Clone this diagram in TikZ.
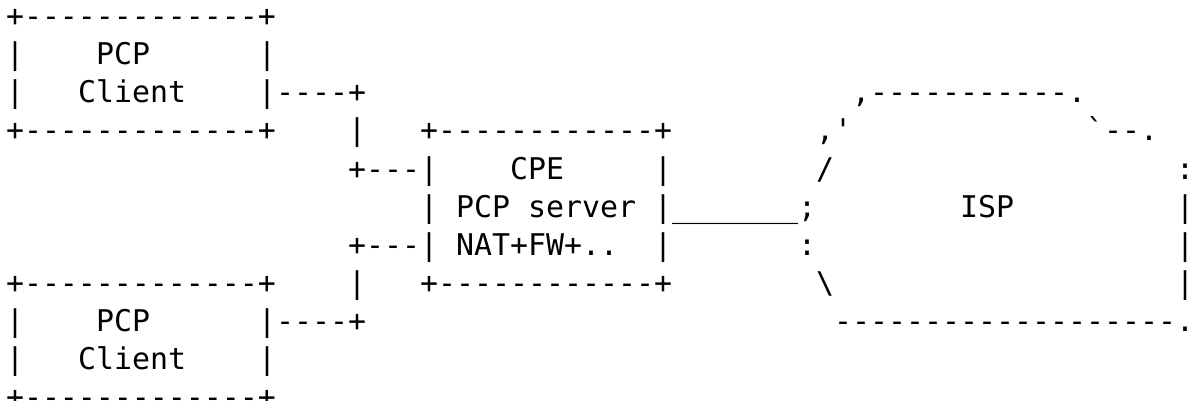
\documentclass[tikz,border=0pt]{standalone}
\usepackage{fontspec}
\setmonofont{DejaVu Sans Mono}
\begin{document}
\begin{tikzpicture}[x=1pt,y=1pt,
  ch/.style={anchor=base west,inner sep=0pt,outer sep=0pt,
    font=\ttfamily\fontsize{29.9}{36}\selectfont,text=black}]
\useasboundingbox (0,0) rectangle (1196,-401);
% column c, row r  ->  x = 6 + 18c,  baseline y = -(27 + 38(r-1))
\newcommand\at[2]{({6+18*#1},{-(27+38*(#2-1))})}
% upper client box
\node[ch] (a1) at \at{0}{1} {+-------------+};
\node[ch] (a2) at \at{0}{2} {|};
\node[ch] (a3) at \at{5}{2} {PCP};
\node[ch] (a4) at \at{14}{2} {|};
\node[ch] (b1) at \at{0}{3} {|};
\node[ch] (b2) at \at{4}{3} {Client};
\node[ch] (b3) at \at{14}{3} {|----+};
\node[ch] (b4) at \at{47}{3} {,-----------.};
\node[ch] (c1) at \at{0}{4} {+-------------+};
\node[ch] (c2) at \at{19}{4} {|};
\node[ch] (c3) at \at{23}{4} {+------------+};
\node[ch] (c4) at \at{45}{4} {,'};
\node[ch] (c5) at \at{60}{4} {`--.};
% CPE box and link to the ISP cloud
\node[ch] (d1) at \at{19}{5} {+---|};
\node[ch] (d2) at \at{28}{5} {CPE};
\node[ch] (d3) at \at{36}{5} {|};
\node[ch] (d4) at \at{45}{5} {/};
\node[ch] (d5) at \at{65}{5} {:};
\node[ch] (e1) at \at{23}{6} {|};
\node[ch] (e2) at \at{25}{6} {PCP};
\node[ch] (e3) at \at{29}{6} {server};
\node[ch] (e4) at \at{36}{6} {|\_\_\_\_\_\_\_;};
\node[ch] (e5) at \at{53}{6} {ISP};
\node[ch] (e6) at \at{65}{6} {|};
\node[ch] (f1) at \at{19}{7} {+---|};
\node[ch] (f2) at \at{25}{7} {NAT+FW+..};
\node[ch] (f3) at \at{36}{7} {|};
\node[ch] (f4) at \at{44}{7} {:};
\node[ch] (f5) at \at{65}{7} {|};
\node[ch] (g1) at \at{0}{8} {+-------------+};
\node[ch] (g2) at \at{19}{8} {|};
\node[ch] (g3) at \at{23}{8} {+------------+};
\node[ch] (g4) at \at{45}{8} {\textbackslash};
\node[ch] (g5) at \at{65}{8} {|};
% lower client box
\node[ch] (h1) at \at{0}{9} {|};
\node[ch] (h2) at \at{5}{9} {PCP};
\node[ch] (h3) at \at{14}{9} {|----+};
\node[ch] (h4) at \at{46}{9} {-------------------.};
\node[ch] (i1) at \at{0}{10} {|};
\node[ch] (i2) at \at{4}{10} {Client};
\node[ch] (i3) at \at{14}{10} {|};
\node[ch] (j1) at \at{0}{11} {+-------------+};
\end{tikzpicture}
\end{document}
